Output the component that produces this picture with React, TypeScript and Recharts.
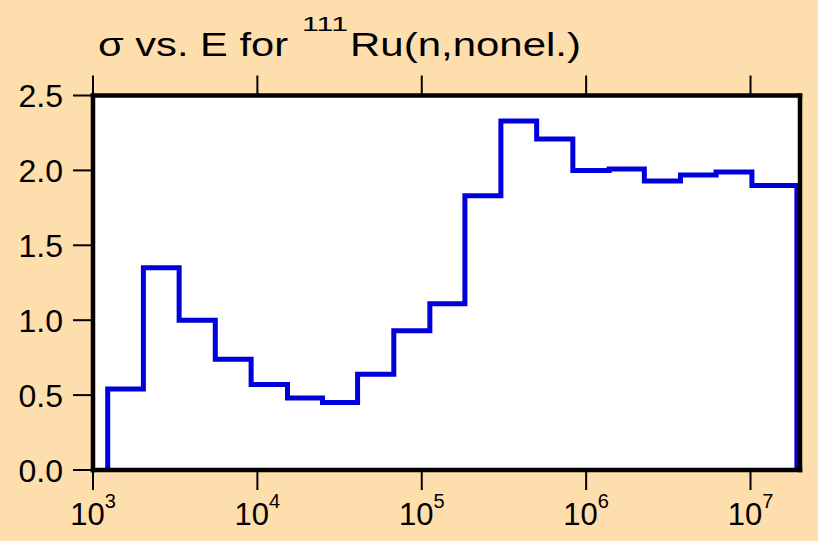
import React from 'react';
import { LineChart, Line, XAxis, YAxis, CartesianGrid } from 'recharts';

// Group boundaries (eV) and the cross section in each group (barns)
const binEdges = [
  1229, 2026, 3342, 5546, 9160, 15250, 24900, 40700, 67600, 112000,
  183000, 303000, 500000, 830000, 1380000, 2260000, 3750000, 6170000, 10200000, 19150000,
];
const sigma = [
  0.54, 1.35, 1.0, 0.74, 0.57, 0.48, 0.45, 0.64, 0.93, 1.11,
  1.83, 2.33, 2.21, 2.0, 2.01, 1.93, 1.97, 1.99, 1.9,
];
const energyTicks = [1e3, 1e4, 1e5, 1e6, 1e7];
const sigmaTicks = [0, 0.5, 1.0, 1.5, 2.0, 2.5];

const FONT = '"Liberation Sans", Arial, Helvetica, sans-serif';
const BG = '#FFDEAD';
const LINE = '#0000dc';

// histogram as a stepAfter path: rise from zero, one point per group, drop to zero
const steps = [
  { e: binEdges[0], s: 0 },
  ...sigma.map((s, i) => ({ e: binEdges[i], s })),
  { e: binEdges[binEdges.length - 1], s: sigma[sigma.length - 1] },
  { e: binEdges[binEdges.length - 1], s: 0 },
];

const PowerTick = (props: any) => {
  const { x, y, payload } = props;
  const exp = Math.round(Math.log10(payload.value));
  return (
    <text x={x} y={y + 35} textAnchor="middle" fontFamily={FONT} fill="#000">
      <tspan fontSize={31}>10</tspan>
      <tspan fontSize={20} dy={-17}>{exp}</tspan>
    </text>
  );
};

const SigmaTick = (props: any) => {
  const { x, y, payload } = props;
  return (
    <text x={x} y={y + 11.5} textAnchor="end" fontFamily={FONT} fontSize={32} fill="#000">
      {payload.value.toFixed(1)}
    </text>
  );
};

const NoTick = () => <g />;

const frame = { stroke: '#000', strokeWidth: 4.5, strokeLinecap: 'square' as const };
const tickStroke = { stroke: '#000', strokeWidth: 2 };

export default function App() {
  return (
    <div style={{ position: 'absolute', left: 0, top: 0, width: 818, height: 541, background: BG }}>
      <svg width={818} height={70} style={{ position: 'absolute', left: 0, top: 0 }}>
        <text x={98} y={56} fontFamily={FONT} fontSize={33} fill="#000" textLength={190} lengthAdjust="spacingAndGlyphs">
          σ vs. E for
        </text>
        <text x={302} y={30.5} fontFamily={FONT} fontSize={21} fill="#000" textLength={46} lengthAdjust="spacingAndGlyphs">
          111
        </text>
        <text x={350} y={56} fontFamily={FONT} fontSize={33} fill="#000" textLength={231} lengthAdjust="spacingAndGlyphs">
          Ru(n,nonel.)
        </text>
      </svg>
      <LineChart
        width={818}
        height={541}
        data={steps}
        margin={{ top: 0, right: 0, bottom: 0, left: 0 }}
        style={{ position: 'absolute', left: 0, top: 0 }}
      >
        <CartesianGrid horizontal={false} vertical={false} fill="#fff" stroke="none" xAxisId="bottom" yAxisId="left" />
        <XAxis
          xAxisId="bottom"
          dataKey="e"
          type="number"
          scale="log"
          domain={[1e3, 2e7]}
          ticks={energyTicks}
          allowDataOverflow
          orientation="bottom"
          height={71}
          axisLine={frame}
          tickLine={tickStroke}
          tickSize={20}
          tickMargin={0}
          tick={PowerTick}
          interval={0}
        />
        <XAxis
          xAxisId="top"
          dataKey="e"
          type="number"
          scale="log"
          domain={[1e3, 2e7]}
          ticks={energyTicks}
          allowDataOverflow
          orientation="top"
          height={95.5}
          axisLine={frame}
          tickLine={tickStroke}
          tickSize={20}
          tick={NoTick}
          interval={0}
        />
        <YAxis
          yAxisId="left"
          type="number"
          domain={[0, 2.5]}
          ticks={sigmaTicks}
          orientation="left"
          width={93}
          axisLine={frame}
          tickLine={tickStroke}
          tickSize={20}
          tickMargin={10}
          tick={SigmaTick}
          interval={0}
        />
        <YAxis
          yAxisId="right"
          type="number"
          domain={[0, 2.5]}
          ticks={sigmaTicks}
          orientation="right"
          width={18}
          axisLine={frame}
          tickLine={tickStroke}
          tickSize={18}
          tick={NoTick}
          interval={0}
        />
        <Line
          xAxisId="bottom"
          yAxisId="left"
          type="stepAfter"
          dataKey="s"
          stroke={LINE}
          strokeWidth={5}
          dot={false}
          activeDot={false}
          isAnimationActive={false}
        />
      </LineChart>
    </div>
  );
}
